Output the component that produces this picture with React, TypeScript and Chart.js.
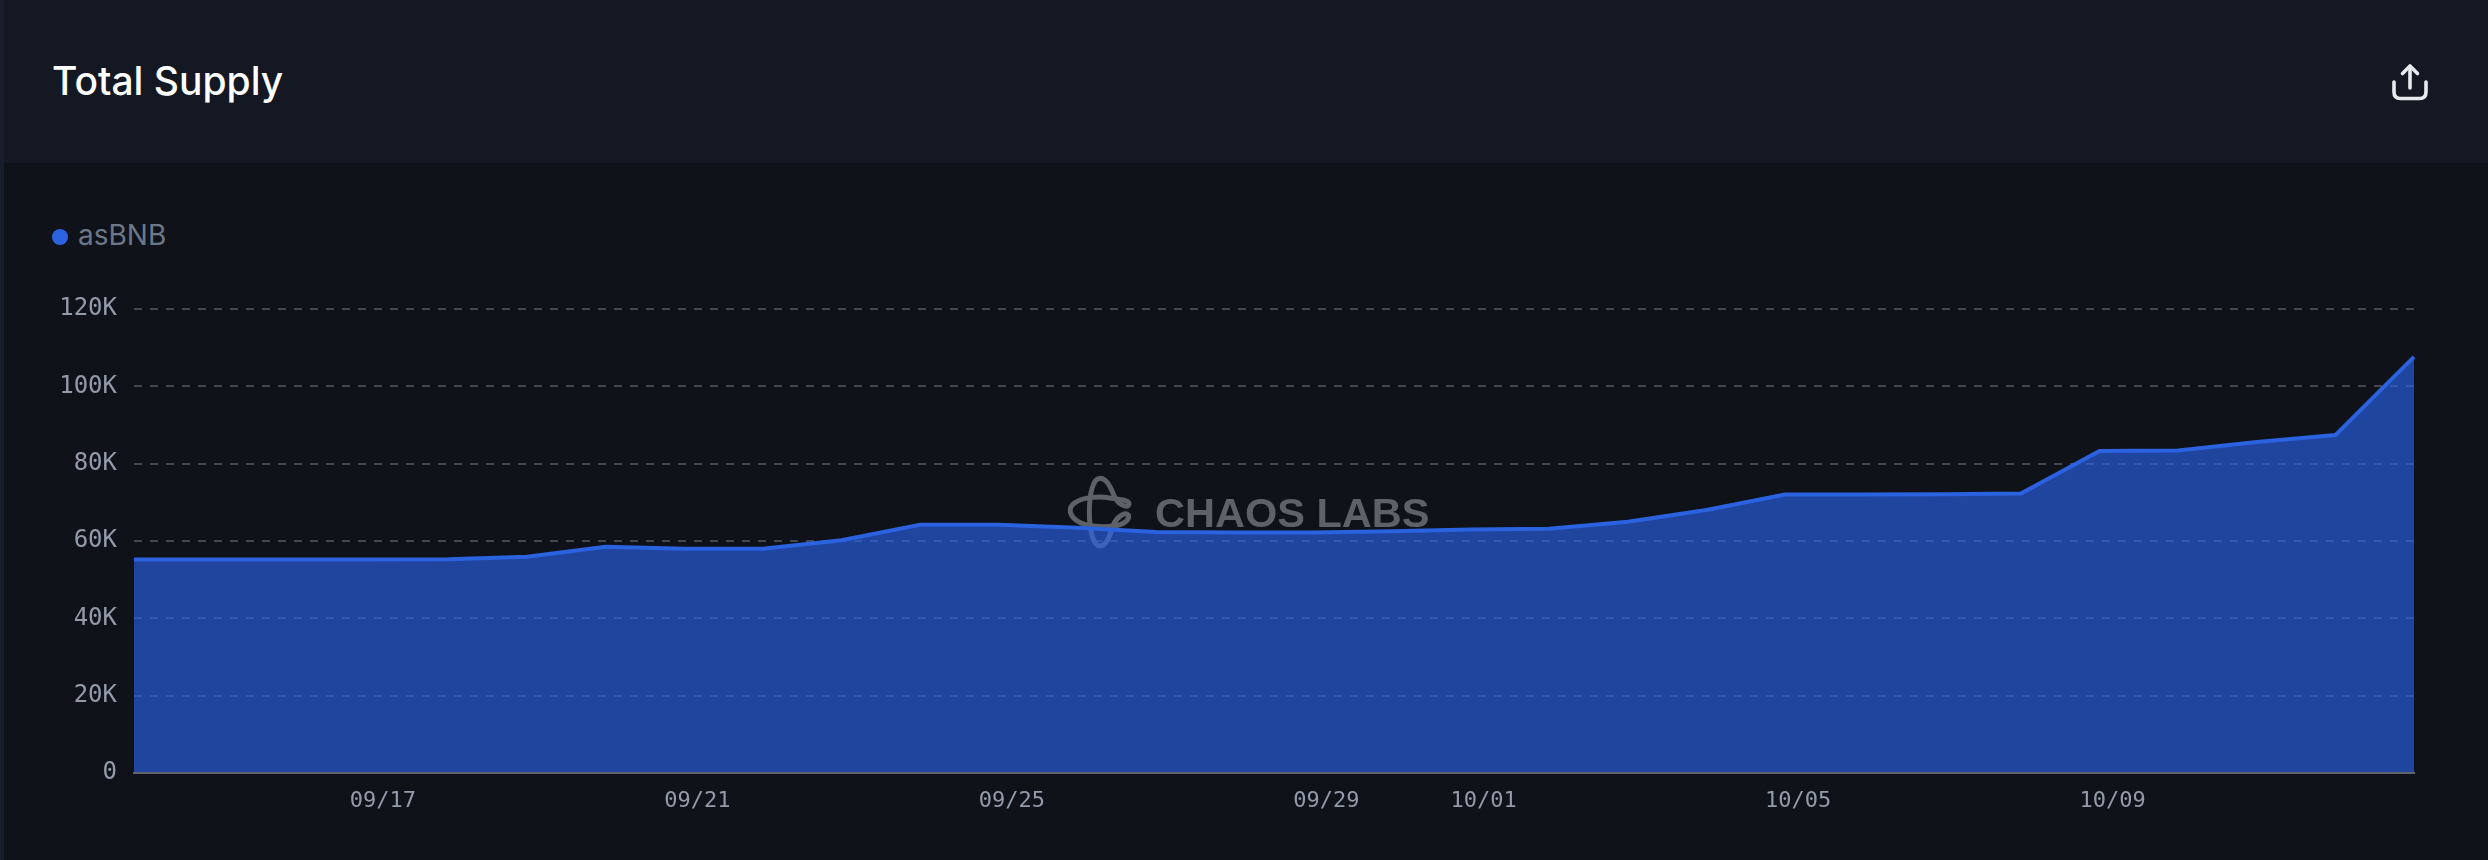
import React, { useEffect, useRef } from "react";
import { Chart, registerables } from "chart.js";

Chart.register(...registerables);

const dates = [
  "09/14", "09/15", "09/16", "09/17", "09/18", "09/19", "09/20", "09/21", "09/22", "09/23",
  "09/24", "09/25", "09/26", "09/27", "09/28", "09/29", "09/30", "10/01", "10/02", "10/03",
  "10/04", "10/05", "10/06", "10/07", "10/08", "10/09", "10/10", "10/11", "10/12", "10/13",
];
const shownDates = ["09/17", "09/21", "09/25", "09/29", "10/01", "10/05", "10/09"];
const asBNB = [
  55200, 55200, 55200, 55200, 55300, 55900, 58500, 58000, 58000, 60200,
  64200, 64200, 63400, 62300, 62200, 62200, 62500, 63000, 63200, 65000,
  68000, 72000, 72000, 72100, 72300, 83300, 83400, 85600, 87400, 107600,
];
const seriesName = "asBNB";
const titleText = "Total Supply";
const watermarkText = "CHAOS LABS";
const yMax = 120000;
const yStep = 20000;

const logoPath =
  "M 178 100 C 165 90, 160 70, 150 50 C 140 32, 130 25, 120 25 C 100 25, 88 70, 88 125 " +
  "C 88 180, 100 228, 120 228 C 140 228, 150 195, 160 165 C 170 140, 195 125, 205 135 " +
  "C 210 150, 190 165, 160 168 C 130 172, 80 170, 55 155 C 30 140, 20 115, 45 98 " +
  "C 70 80, 120 78, 155 85 C 180 88, 210 90, 207 103 C 203 115, 185 105, 178 100 Z";

const watermark = {
  id: "watermark",
  beforeDatasetsDraw(chart: any) {
    const ctx = chart.ctx;
    ctx.save();
    ctx.fillStyle = "#5f6168";
    ctx.strokeStyle = "#5f6168";
    ctx.font = "bold 41.5px 'Liberation Sans'";
    ctx.textBaseline = "alphabetic";
    ctx.textAlign = "left";
    ctx.fillText(watermarkText, 1155, 527);
    ctx.translate(1060, 470);
    ctx.scale(1 / 3, 1 / 3);
    ctx.lineWidth = 15;
    ctx.stroke(new Path2D(logoPath));
    ctx.restore();
  },
};

export default function App() {
  const ref = useRef<HTMLCanvasElement>(null);

  useEffect(() => {
    const chart = new Chart(ref.current as HTMLCanvasElement, {
      type: "line",
      data: {
        labels: dates,
        datasets: [
          {
            label: seriesName,
            data: asBNB,
            borderColor: "#2a62e0",
            borderWidth: 4,
            backgroundColor: "rgba(42,99,235,0.64)",
            fill: "origin",
            pointRadius: 0,
            tension: 0,
          },
        ],
      },
      plugins: [watermark],
      options: {
        animation: false,
        responsive: false,
        devicePixelRatio: 1,
        layout: { padding: { left: 0, right: 74, top: 309, bottom: 47 } },
        plugins: { legend: { display: false }, title: { display: false }, tooltip: { enabled: false } },
        scales: {
          x: {
            type: "category",
            offset: false,
            afterFit: (s: any) => { s.height = 40; },
            grid: { display: false, drawTicks: false },
            border: { display: true, color: "#62646b", width: 2, z: 1 },
            ticks: {
              autoSkip: false,
              maxRotation: 0,
              minRotation: 0,
              padding: 15,
              labelOffset: 13,
              color: "#939bab",
              font: { family: "'DejaVu Sans Mono'", size: 22 },
              callback(this: any, _v: any, i: number) {
                return shownDates.includes(dates[i]) ? dates[i] : "";
              },
            },
          },
          y: {
            min: 0,
            max: yMax,
            afterFit: (s: any) => { s.width = 134; },
            grid: { color: "#44474e", lineWidth: 2, drawTicks: false },
            border: { display: false, dash: [8, 8] },
            ticks: {
              stepSize: yStep,
              padding: 17,
              color: "#939bab",
              font: { family: "'DejaVu Sans Mono'", size: 24 },
              callback: (v: any) => (v === 0 ? "0" : `${Number(v) / 1000}K`),
            },
          },
        },
      },
    } as any);
    return () => chart.destroy();
  }, []);

  return (
    <div style={{ position: "fixed", left: 0, top: 0, width: 2488, height: 860, background: "#0f1219", overflow: "hidden", fontFamily: "Inter" }}>
      <div style={{ position: "absolute", left: 0, top: 0, width: 4, height: 860, background: "#171d2a" }} />
      <div style={{ position: "absolute", left: 4, top: 0, right: 0, height: 163, background: "#131823" }} />
      <div style={{ position: "absolute", left: 52, top: 58, fontSize: 39, lineHeight: "46px", fontWeight: 500, color: "#ffffff", whiteSpace: "nowrap" }}>
        {titleText}
      </div>
      <svg style={{ position: "absolute", left: 2388, top: 60, width: 44, height: 44 }} viewBox="0 0 44 44" fill="none" stroke="#e8eaed" strokeWidth="3.6" strokeLinecap="round" strokeLinejoin="round">
        <path d="M22 6.5 V28" />
        <path d="M14.5 13.5 L22 6 L29.5 13.5" />
        <path d="M6 22 V32 Q6 38.5 12.5 38.5 H31.5 Q38 38.5 38 32 V22" />
      </svg>
      <div style={{ position: "absolute", left: 52, top: 229, width: 16, height: 16, borderRadius: 8, background: "#2a62e0" }} />
      <div style={{ position: "absolute", left: 78, top: 218, fontSize: 28, lineHeight: "34px", color: "#6c7888", whiteSpace: "nowrap" }}>
        {seriesName}
      </div>
      <canvas ref={ref} width={2488} height={860} style={{ position: "absolute", left: 0, top: 0, width: 2488, height: 860 }} />
    </div>
  );
}
